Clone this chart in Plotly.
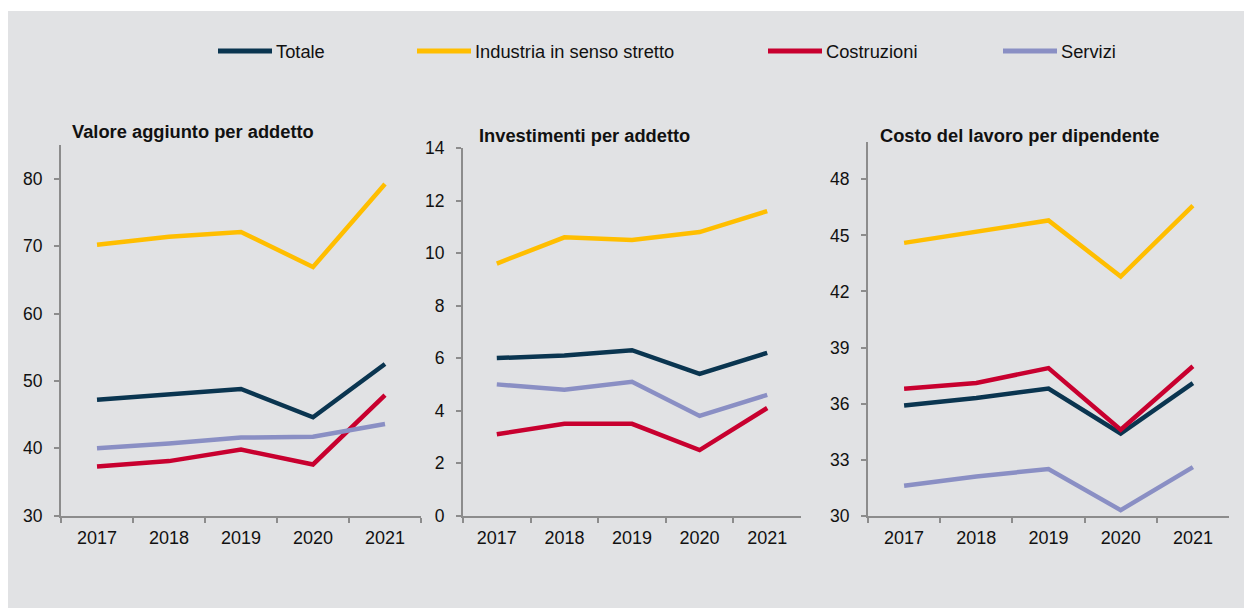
import plotly.graph_objects as go

# Years on the horizontal axis
years = ["2017", "2018", "2019", "2020", "2021"]

# Series names and colours
series_names = ["Totale", "Industria in senso stretto", "Costruzioni", "Servizi"]
series_colors = ["#0a3550", "#ffbe00", "#c8002f", "#8a8fc4"]

# Valore aggiunto per addetto
va_totale = [47.2, 48.0, 48.8, 44.6, 52.5]
va_industria = [70.2, 71.4, 72.1, 66.9, 79.2]
va_costruzioni = [37.3, 38.1, 39.8, 37.6, 47.9]
va_servizi = [40.0, 40.7, 41.6, 41.7, 43.6]

# Investimenti per addetto
inv_totale = [6.0, 6.1, 6.3, 5.4, 6.2]
inv_industria = [9.6, 10.6, 10.5, 10.8, 11.6]
inv_costruzioni = [3.1, 3.5, 3.5, 2.5, 4.1]
inv_servizi = [5.0, 4.8, 5.1, 3.8, 4.6]

# Costo del lavoro per dipendente
cl_totale = [35.9, 36.3, 36.8, 34.4, 37.1]
cl_industria = [44.6, 45.2, 45.8, 42.8, 46.6]
cl_costruzioni = [36.8, 37.1, 37.9, 34.6, 38.0]
cl_servizi = [31.6, 32.1, 32.5, 30.3, 32.6]

panel_titles = ["Valore aggiunto per addetto", "Investimenti per addetto",
                "Costo del lavoro per dipendente"]

panels = [
    [va_totale, va_industria, va_costruzioni, va_servizi],
    [inv_totale, inv_industria, inv_costruzioni, inv_servizi],
    [cl_totale, cl_industria, cl_costruzioni, cl_servizi],
]

W, H = 1244, 608
FONT = "Liberation Sans, Arial, sans-serif"
AXIS_COLOR = "#8c8c8c"
BG = "#e1e2e4"


def px_x(v):
    return v / W


def px_y(v):
    return (H - v) / H


fig = go.Figure()

for p, values in enumerate(panels):
    suffix = "" if p == 0 else str(p + 1)
    for name, color, ys in zip(series_names, series_colors, values):
        fig.add_trace(go.Scatter(
            x=years, y=ys, mode="lines", name=name,
            line=dict(color=color, width=4.5),
            xaxis="x" + suffix, yaxis="y" + suffix,
            showlegend=False,
        ))

# Plot area geometry (pixels)
x_domains = [(61, 421), (463, 801), (868, 1229)]
y_tops = [145, 148, 142]
y_bottom = 515.7
y_ranges = [(30, 85), (0, 14), (30, 50)]
y_ticks = [list(range(30, 81, 10)), list(range(0, 15, 2)), list(range(30, 49, 3))]

layout = dict(
    template="none",
    width=W, height=H,
    autosize=False,
    margin=dict(l=0, r=0, t=0, b=0, pad=0, autoexpand=False),
    paper_bgcolor="white",
    plot_bgcolor="rgba(0,0,0,0)",
    font=dict(family=FONT, size=18, color="#111111"),
    showlegend=False,
)

for p in range(3):
    suffix = "" if p == 0 else str(p + 1)
    layout["xaxis" + suffix] = dict(
        domain=[px_x(x_domains[p][0]), px_x(x_domains[p][1])],
        anchor="y" + suffix,
        type="category",
        range=[-0.5, 4.5],
        tickson="boundaries",
        ticks="outside", ticklen=5, tickcolor=AXIS_COLOR, tickwidth=1.5,
        showline=True, linecolor=AXIS_COLOR, linewidth=2,
        showgrid=False, zeroline=False, automargin=False,
        ticklabelstandoff=5,
        tickfont=dict(size=18),
    )
    layout["yaxis" + suffix] = dict(
        domain=[px_y(y_bottom), px_y(y_tops[p])],
        anchor="x" + suffix,
        range=list(y_ranges[p]),
        tickvals=y_ticks[p],
        ticks="outside", ticklen=5, tickcolor=AXIS_COLOR, tickwidth=1.5,
        showline=True, linecolor=AXIS_COLOR, linewidth=2,
        showgrid=False, zeroline=False, automargin=False,
        ticklabelstandoff=8,
        tickfont=dict(size=17.5),
    )

fig.update_layout(**layout)

# Grey panel behind everything
fig.add_shape(type="rect", xref="paper", yref="paper",
              x0=px_x(8), x1=1.0, y0=0.0, y1=px_y(11),
              fillcolor=BG, line=dict(width=0), layer="below")

# Panel titles
title_pos = [(70, 132), (477, 135.5), (878, 135.5)]
for title, (tx, ty) in zip(panel_titles, title_pos):
    fig.add_annotation(text="<b>" + title + "</b>", xref="paper", yref="paper",
                       x=px_x(tx), y=px_y(ty), xanchor="left", yanchor="middle",
                       showarrow=False, font=dict(size=18.3, family=FONT, color="#111111"))

# Legend row
legend_x = [218, 417, 768, 1003]
legend_y = 51
for name, color, lx in zip(series_names, series_colors, legend_x):
    fig.add_shape(type="line", xref="paper", yref="paper",
                  x0=px_x(lx), x1=px_x(lx + 54), y0=px_y(legend_y), y1=px_y(legend_y),
                  line=dict(color=color, width=5))
    fig.add_annotation(text=name, xref="paper", yref="paper",
                       x=px_x(lx + 56), y=px_y(legend_y + 1), xanchor="left", yanchor="middle",
                       showarrow=False, font=dict(size=18.3, family=FONT, color="#111111"))

fig.write_html("out.html")
